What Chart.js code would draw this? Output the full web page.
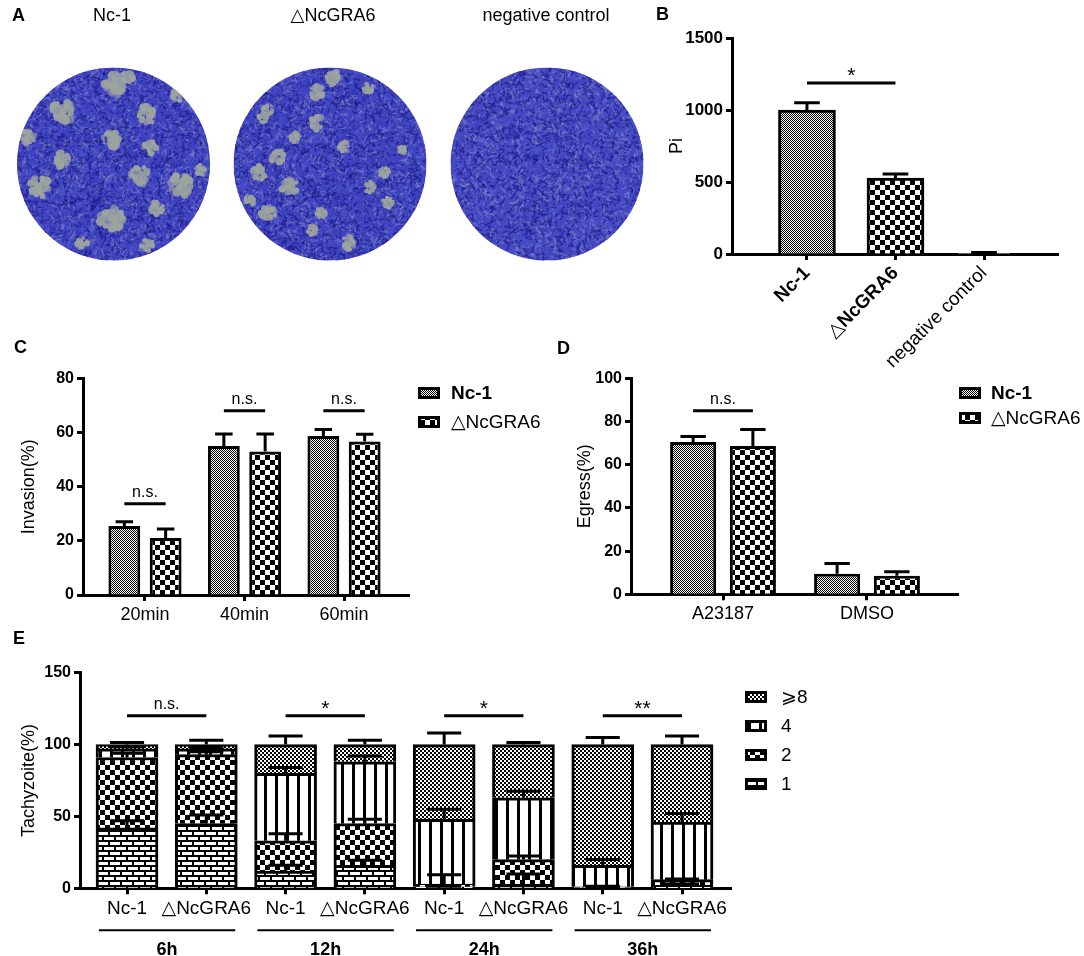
<!DOCTYPE html>
<html>
<head>
<meta charset="utf-8">
<script src="https://cdn.jsdelivr.net/npm/chart.js@4.4.1/dist/chart.umd.min.js"></script>
<style>
  html, body { margin: 0; padding: 0; background: #fff; }
  #fig { position: relative; width: 1084px; height: 956px; overflow: hidden; font-family: "Liberation Sans", Arial, "DejaVu Sans", sans-serif; color: #000; }
  #fig canvas { position: absolute; }
  .letter { position: absolute; font-weight: bold; font-size: 18px; line-height: 18px; }
  .plate-title { position: absolute; font-size: 18px; line-height: 18px; transform: translateX(-50%); white-space: nowrap; }
</style>
</head>
<body>
<div id="fig">
  <canvas id="plates" width="660" height="290" style="left:0;top:0"></canvas>
  <canvas id="chartB" width="444" height="370" style="left:640px;top:0"></canvas>
  <canvas id="chartC" width="540" height="300" style="left:0;top:330px"></canvas>
  <canvas id="chartD" width="544" height="300" style="left:540px;top:330px"></canvas>
  <canvas id="chartE" width="1084" height="326" style="left:0;top:630px"></canvas>

  <div class="letter" style="left:12px;top:6px">A</div>
  <div class="letter" style="left:656px;top:5px">B</div>
  <div class="letter" style="left:14px;top:338px">C</div>
  <div class="letter" style="left:557px;top:339px">D</div>
  <div class="letter" style="left:13px;top:629px">E</div>

  <div class="plate-title" style="left:112px;top:6px">Nc-1</div>
  <div class="plate-title" style="left:333px;top:6px">△NcGRA6</div>
  <div class="plate-title" style="left:546px;top:6px">negative control</div>
</div>

<script>
const FONT = '"Liberation Sans", Arial, "DejaVu Sans", sans-serif';
Chart.defaults.font.family = FONT;
Chart.defaults.color = '#000';

// B: plaque index
const piLabels = ['Nc-1', '△NcGRA6', 'negative control'];
const piMean = [1000, 528, 1];
const piSd = [50, 28, 10];

// C: invasion
const invasionTimes = ['20min', '40min', '60min'];
const invasionNc1 = [25.5, 55, 58.7];
const invasionNc1Sd = [1.5, 4.4, 2.4];
const invasionKo = [21, 53, 56.7];
const invasionKoSd = [3.4, 6.4, 2.6];

// D: egress
const egressTreat = ['A23187', 'DMSO'];
const egressNc1 = [70.5, 9.5];
const egressNc1Sd = [2.5, 4.8];
const egressKo = [68.6, 8.6];
const egressKoSd = [7.7, 1.8];

// E: tachyzoites per vacuole
const timeGroups = ['6h', '12h', '24h', '36h'];
const strainLabels = ['Nc-1', '△NcGRA6', 'Nc-1', '△NcGRA6', 'Nc-1', '△NcGRA6', 'Nc-1', '△NcGRA6'];
const tachyClasses = ['1', '2', '4', '⩾8'];
const tachy1 = [42, 45, 12, 16, 1, 3, 0.5, 2];
const tachy2 = [49, 48, 21, 29, 2, 17, 0.5, 4];
const tachy4 = [6, 4, 47, 43, 45, 43, 15, 40];
const tachy8 = [3, 3, 20, 12, 52, 37, 84, 54];
const tachy1Sd = [5, 6, 4, 3.5, 0.5, 7, 0.5, 1];
const tachy2Sd = [3, 2, 5, 3, 6.5, 2.5, 0.5, 0.5];
const tachy4Sd = [1.5, 1, 4, 4, 7, 4.5, 4, 6];
const tachy8Sd = [1.5, 3, 6, 3, 8, 1.5, 5, 6];

// significance marks: [label, y value]
const piSig = ['*', 1187];
const invasionSig = [['n.s.', 33.7], ['n.s.', 68], ['n.s.', 68]];
const egressSig = [['n.s.', 85]];
const tachySig = [['n.s.', 120], ['*', 120], ['*', 120], ['**', 120]];

// plate photos (stand-in drawing): plaque spots [x, y, r]
const plateX = [113.5, 330, 547];
const plateY = 164, plateR = 96.5;
const plaques = [
  [[115,85,12],[128,77,7],[63,112,12],[147,115,10],[177,95,7],[27,137,8],[110,140,10],[150,147,8],
   [62,160,9],[140,175,10],[182,185,12],[40,187,11],[157,208,8],[112,220,13],[82,243,7],[147,245,7],[200,170,6]],
  [[333,78,8],[317,92,8],[368,88,6],[268,110,6],[317,123,8],[295,137,6],[263,117,6],[344,147,6],
   [277,157,8],[259,173,8],[290,187,9],[384,173,6],[370,187,6],[321,213,6],[268,213,8],[250,200,6],
   [388,203,6],[348,243,8],[312,230,6],[402,150,5]],
  []
];

function drawPlates() {
  const g = document.getElementById('plates').getContext('2d');
  let seed = 12345;
  const rnd = () => (seed = (seed * 16807) % 2147483647) / 2147483647;
  plateX.forEach((cx, p) => {
    g.save();
    g.beginPath();
    g.arc(cx, plateY, plateR, 0, Math.PI * 2);
    g.clip();
    g.fillStyle = p === 2 ? '#4448c0' : '#3e42bc';
    g.fillRect(cx - plateR, plateY - plateR, plateR * 2, plateR * 2);
    const light = p === 2 ? 0.3 : 0.24;
    for (let k = 0; k < 5200; k++) {
      const x = cx - plateR + rnd() * plateR * 2;
      const y = plateY - plateR + rnd() * plateR * 2;
      const a = rnd() * Math.PI, len = 2 + rnd() * 5, r = rnd();
      g.strokeStyle = r < light ? 'rgba(135,140,196,0.5)' : (r < light + 0.42 ? 'rgba(30,28,140,0.65)' : 'rgba(80,86,210,0.6)');
      g.lineWidth = 0.8 + rnd() * 1;
      g.beginPath();
      g.moveTo(x, y);
      g.lineTo(x + Math.cos(a) * len, y + Math.sin(a) * len);
      g.stroke();
    }
    plaques[p].forEach(([bx, by, br]) => {
      for (let k = 0; k < 40; k++) {
        const a = rnd() * Math.PI * 2, d = Math.sqrt(rnd()) * br * 0.9;
        g.fillStyle = k % 3 ? 'rgba(156,164,160,0.92)' : 'rgba(146,152,166,0.75)';
        g.beginPath();
        g.arc(bx + Math.cos(a) * d, by + Math.sin(a) * d, br * (0.12 + rnd() * 0.28), 0, Math.PI * 2);
        g.fill();
      }
    });
    g.restore();
  });
}
drawPlates();

function makePattern(w, h, draw) {
  const c = document.createElement('canvas');
  c.width = w; c.height = h;
  const g = c.getContext('2d');
  draw(g);
  return g.createPattern(c, 'repeat');
}
const patFine = makePattern(2, 2, g => {
  g.fillStyle = '#fff'; g.fillRect(0, 0, 2, 2);
  g.fillStyle = '#000'; g.fillRect(0, 0, 1, 1); g.fillRect(1, 1, 1, 1);
});
const patFine2 = makePattern(4, 4, g => {
  g.fillStyle = '#fff'; g.fillRect(0, 0, 4, 4);
  g.fillStyle = '#000'; g.fillRect(0, 0, 2, 2); g.fillRect(2, 2, 2, 2);
});
const patCoarse = makePattern(10, 10, g => {
  g.fillStyle = '#fff'; g.fillRect(0, 0, 10, 10);
  g.fillStyle = '#000'; g.fillRect(0, 0, 5, 5); g.fillRect(5, 5, 5, 5);
});
const patBrick = makePattern(12, 10, g => {
  g.fillStyle = '#000'; g.fillRect(0, 0, 12, 10);
  g.fillStyle = '#fff'; g.fillRect(2, 2, 10, 3); g.fillRect(0, 7, 6, 3); g.fillRect(8, 7, 4, 3);
});
const patStripe = makePattern(11, 4, g => {
  g.fillStyle = '#fff'; g.fillRect(0, 0, 11, 4);
  g.fillStyle = '#000'; g.fillRect(0, 0, 3, 4);
});

function errorBars(sds, capRatio) {
  return {
    id: 'errorBars',
    afterDatasetsDraw(chart) {
      const ctx = chart.ctx, ys = chart.scales.y;
      sds.forEach((sd, di) => {
        chart.getDatasetMeta(di).data.forEach((bar, j) => {
          const top = ys.getValueForPixel(bar.y);
          const py = ys.getPixelForValue(top + sd[j]);
          const half = bar.width * capRatio / 2;
          ctx.save();
          ctx.strokeStyle = '#000';
          ctx.lineWidth = 3;
          ctx.beginPath();
          ctx.moveTo(bar.x, bar.y);
          ctx.lineTo(bar.x, py);
          ctx.moveTo(bar.x - half, py);
          ctx.lineTo(bar.x + half, py);
          ctx.stroke();
          ctx.restore();
        });
      });
    }
  };
}

// marks: [text, yValue, [dsA, idxA], [dsB, idxB]]
function sigMarks(marks) {
  return {
    id: 'sigMarks',
    afterDatasetsDraw(chart) {
      const ctx = chart.ctx, ys = chart.scales.y;
      marks.forEach(([text, yv, a, b]) => {
        const xa = chart.getDatasetMeta(a[0]).data[a[1]].x;
        const xb = chart.getDatasetMeta(b[0]).data[b[1]].x;
        const py = ys.getPixelForValue(yv);
        ctx.save();
        ctx.strokeStyle = '#000';
        ctx.lineWidth = 3;
        ctx.beginPath();
        ctx.moveTo(xa, py);
        ctx.lineTo(xb, py);
        ctx.stroke();
        ctx.fillStyle = '#000';
        ctx.textAlign = 'center';
        ctx.textBaseline = 'alphabetic';
        if (text.includes('*')) {
          ctx.font = '21px ' + FONT;
          ctx.fillText(text, (xa + xb) / 2, py - 1);
        } else {
          ctx.font = '16px ' + FONT;
          ctx.fillText(text, (xa + xb) / 2, py - 7);
        }
        ctx.restore();
      });
    }
  };
}

// legend with pattern swatches: items [label, fill, bold], positions in canvas px
function patternLegend(items, boxX, ys, textX) {
  return {
    id: 'patternLegend',
    afterDraw(chart) {
      const ctx = chart.ctx;
      items.forEach(([label, fill, bold], i) => {
        const y = ys[i];
        ctx.save();
        ctx.fillStyle = fill;
        ctx.fillRect(boxX, y - 6, 22, 12);
        ctx.strokeStyle = '#000';
        ctx.lineWidth = 3;
        ctx.strokeRect(boxX + 1.5, y - 4.5, 19, 9);
        ctx.fillStyle = '#000';
        ctx.font = (bold ? 'bold ' : '') + '19px ' + FONT;
        ctx.textAlign = 'left';
        ctx.textBaseline = 'middle';
        ctx.fillText(label, textX, y + 1);
        ctx.restore();
      });
    }
  };
}

function yAxis(max, step, width, title, tickSize) {
  return {
    min: 0, max: max,
    ticks: { stepSize: step, padding: 3, font: { size: tickSize, weight: 'bold' }, color: '#000',
      callback: v => String(v) },
    grid: { offset: false, drawOnChartArea: false, drawTicks: true, tickLength: 6, tickWidth: 3, tickColor: '#000' },
    border: { display: true, color: '#000', width: 3 },
    title: { display: true, text: title, font: { size: 18 }, color: '#000', padding: { top: 4, bottom: 4 } },
    afterFit: s => { s.width = width; }
  };
}

function xAxis(labels, min, max, height, fontSize, extra) {
  return Object.assign({
    type: 'linear', min: min, max: max, offset: false,
    afterBuildTicks: s => { s.ticks = labels.map((_, i) => ({ value: i })); },
    ticks: { autoSkip: false, maxRotation: 0, padding: 3, font: { size: fontSize }, color: '#000',
      callback: v => labels[Math.round(v)] },
    grid: { offset: false, drawOnChartArea: false, drawTicks: true, tickLength: 6, tickWidth: 3, tickColor: '#000' },
    border: { display: true, color: '#000', width: 3 },
    afterFit: s => { s.height = height; }
  }, extra || {});
}

const commonOpts = {
  responsive: false,
  animation: false,
  plugins: { legend: { display: false }, tooltip: { enabled: false } }
};

// ---------- B ----------
const xB = xAxis(piLabels, -0.847, 2.836, 116, 19);
xB.ticks = Object.assign({}, xB.ticks, {
  minRotation: 45, maxRotation: 45, padding: 2,
  font: ctx => ({ size: 19, weight: ctx.index < 2 ? 'bold' : 'normal', family: FONT })
});
new Chart(document.getElementById('chartB'), {
  type: 'bar',
  data: {
    datasets: [{
      data: piMean.map((v, i) => ({ x: i, y: v })),
      backgroundColor: [patFine, patCoarse, '#fff'],
      borderColor: '#000', borderWidth: 3, barThickness: 57
    }]
  },
  options: Object.assign({}, commonOpts, {
    layout: { padding: { left: 22, top: 38, right: 26, bottom: 0 } },
    scales: { x: xB, y: yAxis(1500, 500, 70, 'Pi', 17) }
  }),
  plugins: [errorBars([piSd], 0.45), sigMarks([[piSig[0], piSig[1], [0, 0], [0, 1]]])]
});

// ---------- C ----------
new Chart(document.getElementById('chartC'), {
  type: 'bar',
  data: {
    datasets: [
      { data: invasionNc1.map((v, i) => ({ x: i, y: v })), backgroundColor: patFine,
        borderColor: '#000', borderWidth: 3, categoryPercentage: 0.83, barPercentage: 0.771 },
      { data: invasionKo.map((v, i) => ({ x: i, y: v })), backgroundColor: patCoarse,
        borderColor: '#000', borderWidth: 3, categoryPercentage: 0.83, barPercentage: 0.771 }
    ]
  },
  options: Object.assign({}, commonOpts, {
    layout: { padding: { left: 14, top: 48.3, right: 131, bottom: 0 } },
    scales: { x: xAxis(invasionTimes, -0.623, 2.653, 35, 18), y: yAxis(80, 20, 69, 'Invasion(%)', 16) }
  }),
  plugins: [
    errorBars([invasionNc1Sd, invasionKoSd], 0.55),
    sigMarks(invasionSig.map(([t, y], i) => [t, y, [0, i], [1, i]])),
    patternLegend([['Nc-1', patFine, true], ['△NcGRA6', patCoarse, false]], 418, [63, 92], 451)
  ]
});

// ---------- D ----------
new Chart(document.getElementById('chartD'), {
  type: 'bar',
  data: {
    datasets: [
      { data: egressNc1.map((v, i) => ({ x: i, y: v })), backgroundColor: patFine,
        borderColor: '#000', borderWidth: 3, categoryPercentage: 0.83, barPercentage: 0.771 },
      { data: egressKo.map((v, i) => ({ x: i, y: v })), backgroundColor: patCoarse,
        borderColor: '#000', borderWidth: 3, categoryPercentage: 0.83, barPercentage: 0.771 }
    ]
  },
  options: Object.assign({}, commonOpts, {
    layout: { padding: { left: 30, top: 48.3, right: 126, bottom: 0 } },
    scales: { x: xAxis(egressTreat, -0.639, 1.632, 35.7, 18), y: yAxis(100, 20, 61, 'Egress(%)', 16) }
  }),
  plugins: [
    errorBars([egressNc1Sd, egressKoSd], 0.55),
    sigMarks(egressSig.map(([t, y], i) => [t, y, [0, i], [1, i]])),
    patternLegend([['Nc-1', patFine, true], ['△NcGRA6', patCoarse, false]], 419, [63, 88], 451)
  ]
});

// ---------- E ----------
const groupLines = {
  id: 'groupLines',
  afterDraw(chart) {
    const ctx = chart.ctx, xs = chart.scales.x, bottom = chart.chartArea.bottom;
    timeGroups.forEach((g, i) => {
      const x1 = xs.getPixelForValue(2 * i - 0.355);
      const x2 = xs.getPixelForValue(2 * i + 1.365);
      ctx.save();
      ctx.strokeStyle = '#000';
      ctx.lineWidth = 2;
      ctx.beginPath();
      ctx.moveTo(x1, bottom + 42);
      ctx.lineTo(x2, bottom + 42);
      ctx.stroke();
      ctx.fillStyle = '#000';
      ctx.font = 'bold 18px ' + FONT;
      ctx.textAlign = 'center';
      ctx.textBaseline = 'alphabetic';
      ctx.fillText(g, (x1 + x2) / 2, bottom + 67);
      ctx.restore();
    });
  }
};
const tachySeries = [tachy1, tachy2, tachy4, tachy8];
const tachyFills = [patBrick, patCoarse, patStripe, patFine2];
new Chart(document.getElementById('chartE'), {
  type: 'bar',
  data: {
    datasets: tachySeries.map((s, k) => ({
      label: tachyClasses[k],
      data: s.map((v, i) => ({ x: i, y: v })),
      backgroundColor: tachyFills[k], borderColor: '#000', borderWidth: 3, barThickness: 62
    }))
  },
  options: Object.assign({}, commonOpts, {
    layout: { padding: { left: 14, top: 42.7, right: 352.5, bottom: 0 } },
    scales: {
      x: xAxis(strainLabels, -0.593, 7.624, 67.7, 19, { stacked: true }),
      y: Object.assign(yAxis(150, 50, 66, 'Tachyzoite(%)', 16), { stacked: true })
    }
  }),
  plugins: [
    errorBars([tachy1Sd, tachy2Sd, tachy4Sd, tachy8Sd], 0.55),
    sigMarks(tachySig.map(([t, y], i) => [t, y, [0, 2 * i], [0, 2 * i + 1]])),
    patternLegend([['⩾8', patFine2, false], ['4', patStripe, false], ['2', patCoarse, false], ['1', patBrick, false]],
      745, [67, 96, 125, 154], 781),
    groupLines
  ]
});
</script>
</body>
</html>
